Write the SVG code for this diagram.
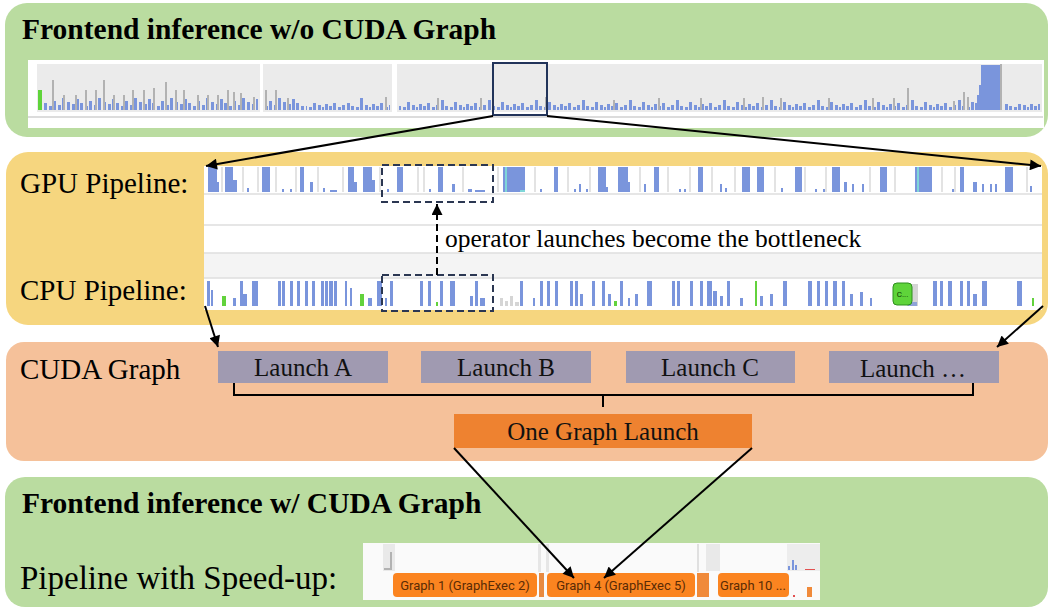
<svg xmlns="http://www.w3.org/2000/svg" width="1052" height="609" viewBox="0 0 1052 609">
<style>
.title{font-family:"Liberation Serif",serif;font-weight:bold;font-size:29.5px;fill:#000}
.lbl{font-family:"Liberation Serif",serif;font-size:29px;fill:#000}
.lbl2{font-family:"Liberation Serif",serif;font-size:33px;fill:#000}
.box{font-family:"Liberation Serif",serif;font-size:25px;fill:#111;text-anchor:middle}
.blue{fill:#7a95dc}
.grayb{fill:#b2b2b2}
.gl{stroke:#dadada;stroke-width:1.5}
.conn{stroke:#000;stroke-width:2;fill:none}
.dash{stroke:#2b3752;stroke-width:2;fill:none;stroke-dasharray:7 4}
.gtxt{font-family:Roboto,"Liberation Sans",sans-serif;font-size:13px;fill:#5a2b05;text-anchor:middle}
.og{fill:#fb8420}
</style>
<defs>
<marker id="ah" viewBox="0 0 10 10" refX="10" refY="5" markerWidth="13" markerHeight="11" markerUnits="userSpaceOnUse" orient="auto">
<path d="M0,0 L10,5 L0,10 z" fill="#000"/>
</marker>
<pattern id="pd" x="0" y="96" width="36" height="14" patternUnits="userSpaceOnUse">
<path class="blue" d="M0 14v-6h3v6zM4 14v-11h3v11zM8 14v-7h3v7zM13 14v-4h3v4zM17 14v-9h3v9zM22 14v-5h3v5zM26 14v-12h3v12zM31 14v-8h3v8z"/>
</pattern>
<pattern id="ps" x="0" y="96" width="47" height="14" patternUnits="userSpaceOnUse">
<path class="blue" d="M0 14v-4h3v4zM4 14v-7h3v7zM9 14v-3h3v3zM13 14v-5h3v5zM18 14v-10h3v10zM22 14v-4h3v4zM27 14v-3h3v3zM31 14v-8h3v8zM36 14v-5h3v5zM40 14v-3h2v3zM43 14v-6h3v6z"/>
</pattern>
</defs>

<!-- Panel 1 -->
<g id="panel-top">
<rect x="5" y="3" width="1043" height="134" rx="22" fill="#badca0"/>
<text class="title" x="22" y="39">Frontend inference w/o CUDA Graph</text>
<rect x="28" y="60" width="1016" height="68" fill="#ffffff"/>
<rect x="37" y="64" width="223" height="48" fill="#ebebeb"/>
<rect x="263" y="64" width="129" height="48" fill="#ebebeb"/>
<rect x="397" y="64" width="645" height="48" fill="#ebebeb"/>
<line x1="28" y1="117" x2="1043" y2="117" stroke="#d0d0d0" stroke-width="1.5"/>
<rect x="38" y="90" width="4" height="20" fill="#5fd43a"/>
<rect x="44" y="96" width="214" height="14" fill="url(#pd)"/>
<rect x="264" y="96" width="40" height="14" fill="url(#pd)"/>
<rect x="306" y="103" width="84" height="7" fill="url(#ps)"/>
<rect x="399" y="96" width="576" height="14" fill="url(#ps)"/>
<rect x="1004" y="104" width="36" height="6" fill="url(#ps)"/>
<path class="grayb" d="M52 110V80h2v30zM63 110V95h2v15zM75 110V95h2v15zM85 110V90h2v20zM95 110V90h2v20zM103 110V80h2v30zM113 110V95h2v15zM123 110V95h2v15zM132 110V90h2v20zM143 110V90h2v20zM153 110V88h2v22zM165 110V82h2v28zM175 110V90h2v20zM183 110V90h2v20zM197 110V95h2v15zM207 110V95h2v15zM217 110V95h2v15zM227 110V90h2v20zM233 110V92h2v18zM240 110V93h2v17zM253 110V97h2v13zM265 110V90h2v20zM275 110V90h2v20zM287 110V98h2v12zM385 110V97h2v13zM437 110V98h2v12zM480 110V98h2v12zM545 110V97h2v13zM613 110V100h2v10zM658 110V98h2v12zM700 110V98h2v12zM743 110V98h2v12zM762 110V97h2v13zM780 110V98h2v12zM828 110V98h2v12zM872 110V98h2v12zM893 110V98h2v12zM907 110V88h2v22zM953 110V101h2v9zM963 110V92h2v18zM967 110V97h2v13zM1000 110V64h2v46z"/>
<path class="blue" d="M360 110V98h3v12zM975 110V103h2v7zM977 110V95h2v15zM979 110V85h2v25zM981 110V65h19v45z"/>
<rect x="493" y="63" width="54" height="52" fill="none" stroke="#22345a" stroke-width="2"/>
</g>

<!-- Panel 2 -->
<g id="panel-pipeline">
<rect x="6" y="152" width="1042" height="173" rx="22" fill="#f6d67f"/>
<rect x="204" y="166" width="838" height="144" fill="#ffffff"/>
<rect x="204" y="253" width="838" height="25" fill="#f4f4f4"/>
<path d="M204 194H1042M204 225H1042M204 253H1042M204 278H1042" stroke="#dedede" stroke-width="1.5"/>
<text class="lbl" x="20" y="193">GPU Pipeline:</text>
<text class="lbl" x="20" y="300">CPU Pipeline:</text>
<path class="gl" d="M222 167v25M243 167v25M258 167v25M276 167v25M296 167v25M318 167v25M343 167v25M380 167v25M418 167v25M424 167v25M463 167v25M498 167v25M535 167v25M568 167v25M590 167v25M640 167v25M668 167v25M690 167v25M712 167v25M735 167v25M775 167v25M805 167v25M826 167v25M870 167v25M895 167v25M942 167v25M955 167v25M1027 167v25"/>
<path class="blue" d="M208 192v-25h9v25zM217 192v-10h2v10zM225 192v-25h8v25zM233 192v-12h4v12zM247 192v-4h2v4zM262 192v-25h8v25zM282 192v-3h2v3zM290 192v-3h2v3zM300 192v-25h4v25zM310 192v-10h3v10zM323 192v-4h2v4zM330 192v-2h7v2zM348 192v-25h6v25zM354 192v-10h3v10zM363 192v-25h9v25zM372 192v-12h3v12zM387 192v-3h2v3zM397 192v-25h6v25zM429 192v-3h2v3zM438 192v-25h5v25zM452 192v-8h3v8zM468 192v-3h4v3zM475 192v-2h10v2zM503 192v-25h17v25zM520 192v-25h5v25zM540 192v-3h2v3zM554 192v-25h4v25zM574 192v-3h2v3zM579 192v-8h2v8zM586 192v-3h2v3zM598 192v-25h8v25zM606 192v-5h2v5zM618 192v-25h10v25zM628 192v-10h2v10zM644 192v-8h2v8zM654 192v-25h5v25zM679 192v-3h2v3zM684 192v-3h2v3zM698 192v-25h5v25zM720 192v-8h2v8zM725 192v-4h2v4zM742 192v-25h8v25zM757 192v-25h7v25zM781 192v-4h2v4zM795 192v-25h7v25zM815 192v-3h2v3zM823 192v-3h2v3zM832 192v-25h8v25zM844 192v-10h3v10zM852 192v-8h2v8zM862 192v-8h2v8zM880 192v-25h7v25zM915 192v-25h17v25zM952 192v-3h2v3zM960 192v-25h4v25zM973 192v-10h4v10zM982 192v-8h2v8zM990 192v-8h2v8zM995 192v-8h2v8zM1005 192v-25h8v25zM1030 192v-6h2v6z"/>
<path fill="#7fd6d8" d="M505 192v-25h2v25zM917 192v-25h2v25zM520 192v-2h5v2z"/>
<path class="blue" d="M207 306v-25h3v25zM211 306v-16h2v16zM233 306v-8h3v8zM240 306v-25h3v25zM243 306v-12h4v12zM252 306v-25h6v25zM278 306v-25h3v25zM282 306v-25h3v25zM290 306v-25h3v25zM297 306v-25h3v25zM305 306v-25h3v25zM312 306v-25h3v25zM321 306v-25h3v25zM325 306v-25h3v25zM329 306v-25h4v25zM334 306v-25h3v25zM345 306v-25h2v25zM350 306v-18h2v18zM368 306v-8h4v8zM377 306v-25h5v25zM385 306v-8h2v8zM390 306v-25h3v25zM420 306v-25h3v25zM428 306v-25h3v25zM440 306v-25h3v25zM450 306v-25h5v25zM470 306v-10h3v10zM475 306v-25h3v25zM480 306v-8h5v8zM520 306v-25h3v25zM533 306v-8h2v8zM540 306v-25h3v25zM547 306v-25h3v25zM555 306v-25h3v25zM570 306v-25h3v25zM575 306v-25h3v25zM580 306v-12h3v12zM592 306v-25h3v25zM602 306v-25h3v25zM608 306v-12h3v12zM620 306v-25h3v25zM628 306v-8h2v8zM635 306v-12h3v12zM647 306v-25h5v25zM672 306v-25h3v25zM677 306v-25h3v25zM690 306v-25h3v25zM700 306v-25h3v25zM707 306v-25h5v25zM713 306v-15h4v15zM720 306v-10h3v10zM727 306v-25h3v25zM740 306v-8h3v8zM760 306v-10h3v10zM770 306v-12h3v12zM783 306v-25h4v25zM808 306v-25h4v25zM817 306v-25h3v25zM825 306v-25h3v25zM833 306v-25h4v25zM842 306v-25h3v25zM850 306v-12h3v12zM860 306v-14h3v14zM870 306v-8h2v8zM933 306v-25h4v25zM940 306v-25h3v25zM948 306v-25h4v25zM960 306v-25h3v25zM967 306v-25h3v25zM973 306v-12h4v12zM982 306v-25h5v25zM1017 306v-25h5v25z"/>
<path fill="#62d23c" d="M222 306v-10h4v10zM360 306v-12h4v12zM436 306v-4h2v4zM614 306v-5h3v5zM755 306v-25h2v25zM1032 306v-8h2v8z"/>
<path fill="#d5d5d5" d="M500 306v-8h3v8zM505 306v-5h3v5zM510 306v-10h3v10zM515 306v-4h4v4zM907 306v-22h11v22z"/>
<path fill="#8fa3d8" d="M908 306v-4h9v4z"/>
<rect x="893" y="283" width="19" height="22" rx="4" fill="#5fd43a" stroke="#2f8f1f" stroke-width="1"/>
<text x="902.5" y="297" font-family="Roboto,'Liberation Sans',sans-serif" font-size="8" fill="#0b3b00" text-anchor="middle">C...</text>
<rect x="382" y="165" width="111" height="37" class="dash"/>
<rect x="382" y="275" width="111" height="36" class="dash"/>
<text x="445" y="247" font-family="'Liberation Serif',serif" font-size="25.5" fill="#000">operator launches become the bottleneck</text>
</g>

<!-- Panel 3 -->
<g id="panel-cuda">
<rect x="6" y="342" width="1042" height="119" rx="18" fill="#f5c19a"/>
<text class="lbl" x="20" y="379">CUDA Graph</text>
</g>
<g id="launch-a"><rect x="218" y="351" width="170" height="32" fill="#a09ab1"/><text class="box" x="303" y="376">Launch A</text></g>
<g id="launch-b"><rect x="421" y="351" width="170" height="32" fill="#a09ab1"/><text class="box" x="506" y="376">Launch B</text></g>
<g id="launch-c"><rect x="626" y="351" width="169" height="32" fill="#a09ab1"/><text class="box" x="710" y="376">Launch C</text></g>
<g id="launch-more"><rect x="829" y="351" width="170" height="32" fill="#a09ab1"/><text class="box" x="913" y="377">Launch …</text></g>
<g id="one-graph-launch"><rect x="454" y="414" width="298" height="34" fill="#ee8230"/><text class="box" x="603" y="440">One Graph Launch</text></g>

<!-- Panel 4 -->
<g id="panel-bottom">
<rect x="5" y="477" width="1043" height="130" rx="20" fill="#badca0"/>
<text class="title" x="22" y="513">Frontend inference w/ CUDA Graph</text>
<text class="lbl2" x="20" y="589">Pipeline with Speed-up:</text>
<rect x="363" y="543" width="457" height="57" fill="#fafafa"/>
<rect x="383" y="544" width="12" height="27" fill="#e9e9e9"/>
<path class="grayb" d="M384 570v-2h6v2zM390 570v-18h2v18z"/>
<rect x="538" y="544" width="3" height="28" fill="#e6e6e6"/>
<rect x="546" y="544" width="3" height="28" fill="#e6e6e6"/>
<rect x="697" y="544" width="2" height="28" fill="#e0e0e0"/>
<rect x="706" y="544" width="14" height="27" fill="#e9e9e9"/>
<rect x="787" y="544" width="33" height="27" fill="#ededed"/>
<path class="blue" d="M788 570v-4h2v4zM792 570v-10h2v10zM795 570v-5h2v5z"/>
<path fill="#e25050" d="M805 570v-1h10v1z"/>
<rect x="393" y="573" width="144" height="24" rx="4" class="og"/>
<rect x="539" y="573" width="5" height="24" fill="#e88a40"/>
<rect x="547" y="573" width="148" height="24" rx="4" class="og"/>
<rect x="697" y="573" width="12" height="24" fill="#f08a3a"/>
<rect x="718" y="573" width="71" height="24" rx="4" class="og"/>
<rect x="807" y="587" width="5" height="10" fill="#f08a3a"/>
<rect x="793" y="595" width="2" height="2" fill="#e25050"/>
<text class="gtxt" x="465" y="590">Graph 1 (GraphExec 2)</text>
<text class="gtxt" x="621" y="590">Graph 4 (GraphExec 5)</text>
<text class="gtxt" x="753" y="590">Graph 10 ...</text>
</g>

<!-- Connectors -->
<g id="connectors">
<line class="conn" x1="493" y1="116" x2="206" y2="166" marker-end="url(#ah)"/>
<line class="conn" x1="547" y1="116" x2="1041" y2="166" marker-end="url(#ah)"/>
<line class="conn" x1="437" y1="275" x2="437" y2="204" stroke-dasharray="7 4" marker-end="url(#ah)"/>
<line class="conn" x1="205" y1="306" x2="218" y2="347" marker-end="url(#ah)"/>
<line class="conn" x1="1043" y1="306" x2="997" y2="347" marker-end="url(#ah)"/>
<path class="conn" d="M234 383v12H973v-12M603 395v12"/>
<line class="conn" x1="454" y1="448" x2="574" y2="578" marker-end="url(#ah)"/>
<line class="conn" x1="752" y1="448" x2="604" y2="578" marker-end="url(#ah)"/>
</g>
</svg>
